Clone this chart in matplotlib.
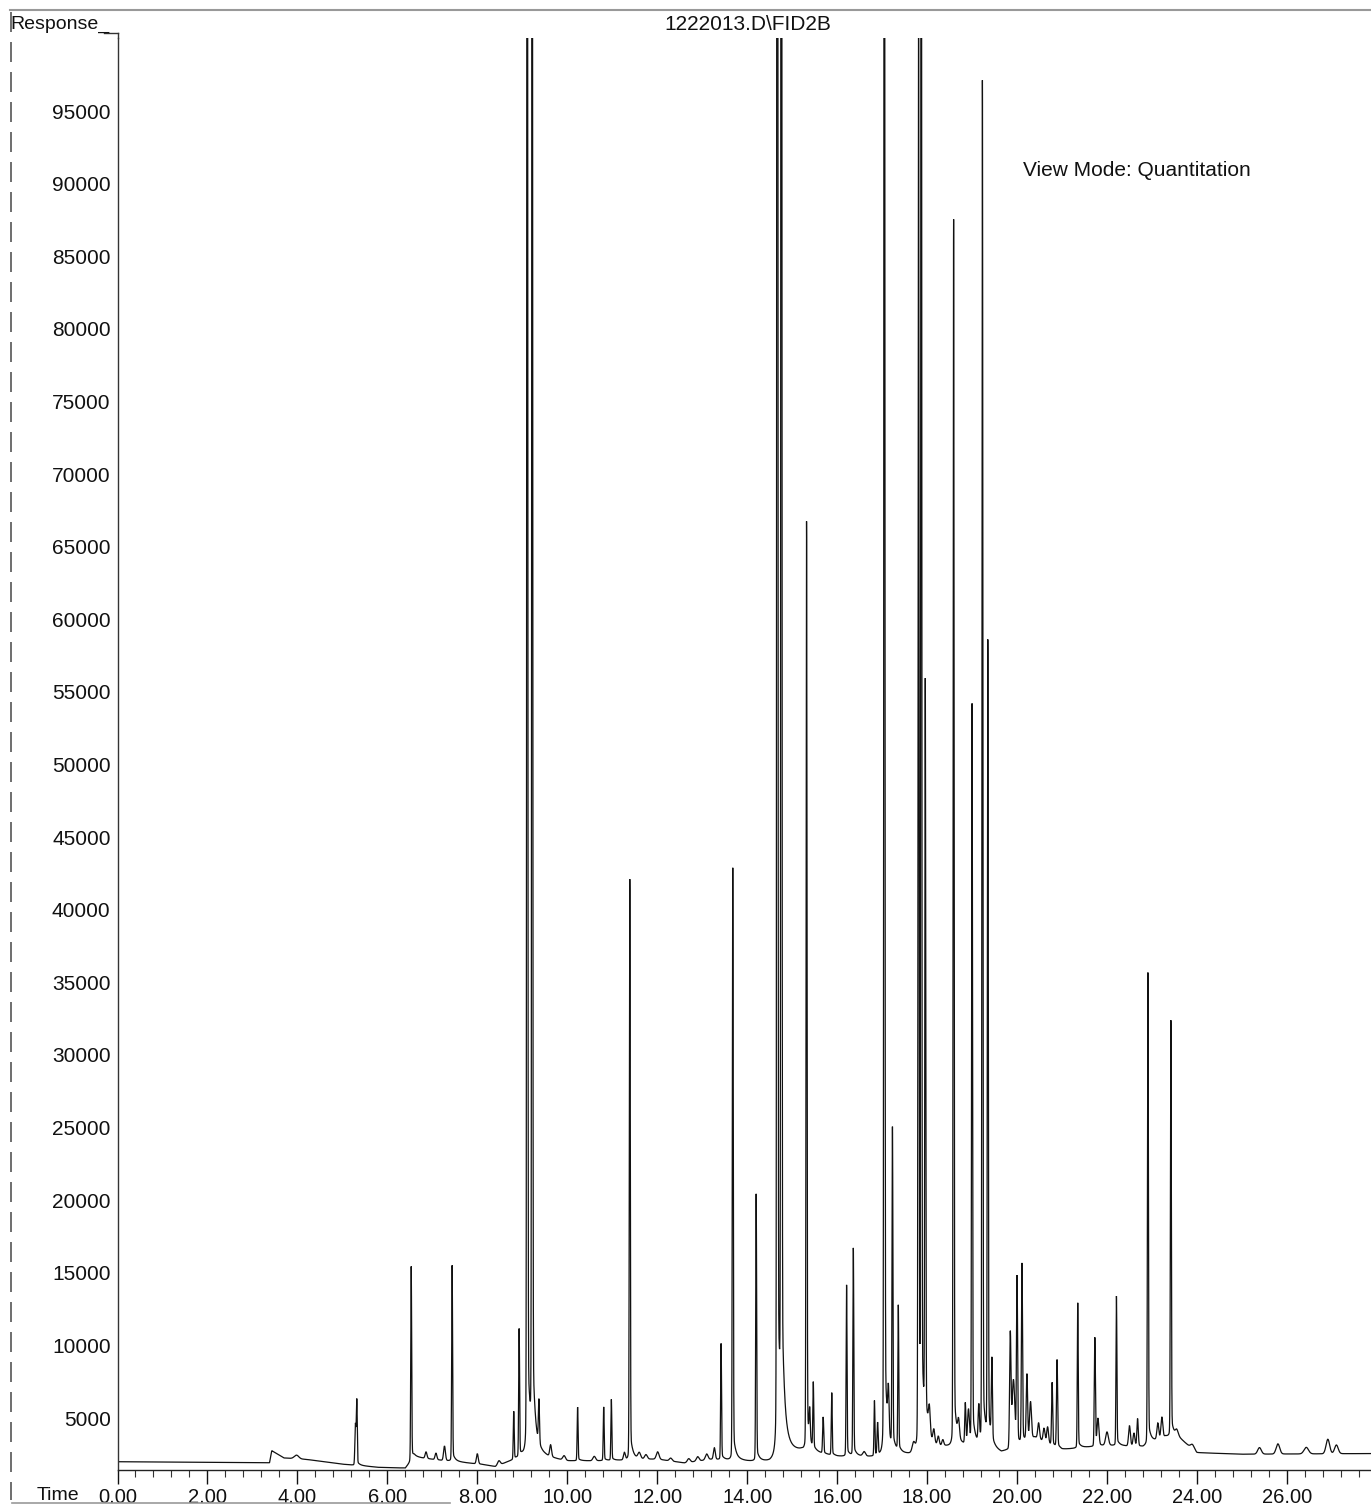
import numpy as np
import matplotlib
matplotlib.use("Agg")
import matplotlib.pyplot as plt
from matplotlib.lines import Line2D

plt.rcParams['font.family'] = ['Liberation Sans', 'DejaVu Sans']

# ---------------- data ----------------
title = "1222013.D\\FID2B"
y_label = "Response_"
x_label = "Time"
note = "View Mode: Quantitation"

# baseline level (response) at a set of retention times (min)
base_t = [0.0, 3.38, 3.43, 3.7, 4.2, 5.0, 5.8, 6.4, 6.6, 7.0, 7.6, 8.1, 8.4, 8.7,
          9.0, 9.5, 10.0, 11.0, 12.0, 12.6, 13.2, 14.0, 14.5, 15.2, 16.0, 17.0,
          17.6, 18.4, 19.0, 19.65, 20.4, 21.0, 22.0, 22.8, 23.3, 23.6, 24.0,
          25.0, 27.9]
base_v = [1990, 1920, 2750, 2250, 2150, 1820, 1600, 1550, 2300, 2150, 1950, 1800,
          1650, 2000, 2300, 2200, 2000, 2050, 2150, 1900, 2150, 2000, 1950, 2600,
          2300, 2300, 2400, 2900, 3000, 2500, 3600, 2800, 3100, 3000, 3700, 3600,
          2600, 2500, 2550]

# peaks: retention time (min), height above baseline, width (sigma, min)
peak_t = [3.98, 5.29, 5.32, 6.53, 6.86, 7.08, 7.27, 7.44, 8.00, 8.48, 8.81, 8.93,
          9.11, 9.22, 9.37, 9.63, 9.93, 10.23, 10.60, 10.81, 10.98, 11.27, 11.39,
          11.60, 11.75, 12.01, 12.30, 12.70, 12.90, 13.10, 13.27, 13.42, 13.68,
          14.20, 14.67, 14.76, 15.32, 15.39, 15.47, 15.69, 15.88, 16.21, 16.36,
          16.60, 16.83, 16.90, 17.05, 17.14, 17.23, 17.36, 17.70, 17.81, 17.87,
          17.96, 18.05, 18.15, 18.25, 18.35, 18.59, 18.70, 18.85, 18.92, 19.00,
          19.15, 19.23, 19.35, 19.44, 19.85, 19.92, 20.00, 20.11, 20.22, 20.30,
          20.48, 20.60, 20.68, 20.78, 20.89, 21.35, 21.73, 21.80, 22.00, 22.21,
          22.50, 22.60, 22.68, 22.91, 23.13, 23.22, 23.42, 23.55, 23.90, 25.39,
          25.80, 26.43, 26.91, 27.10]
peak_h = [250, 2800, 4400, 13400, 450, 450, 1000, 13500, 700, 300, 3300, 8800,
          160000, 140000, 3000, 800, 300, 3700, 300, 3700, 4200, 500, 40000,
          400, 300, 500, 200, 250, 300, 400, 800, 8000, 40800,
          18400, 250000, 200000, 64000, 2000, 4500, 2500, 4300, 11800, 14300,
          300, 3800, 2200, 160000, 3000, 22000, 10000, 600, 98500, 140000,
          51000, 1800, 900, 600, 400, 84500, 1200, 2800, 2300, 51000,
          2500, 94000, 55000, 5500, 7800, 4500, 11500, 12300, 4500, 2500,
          1100, 900, 1100, 4300, 6000, 10000, 7500, 1800, 900, 10300,
          1400, 900, 1900, 32500, 1100, 1400, 28700, 400, 300, 450,
          700, 450, 1000, 600]
peak_w = [0.05, 0.012, 0.010, 0.010, 0.02, 0.02, 0.02, 0.010, 0.02, 0.03, 0.010, 0.010,
          0.010, 0.010, 0.012, 0.02, 0.03, 0.010, 0.03, 0.010, 0.010, 0.02, 0.010,
          0.03, 0.03, 0.03, 0.03, 0.03, 0.03, 0.03, 0.02, 0.010, 0.010,
          0.010, 0.010, 0.010, 0.010, 0.012, 0.010, 0.012, 0.010, 0.010, 0.010,
          0.03, 0.010, 0.012, 0.010, 0.015, 0.010, 0.010, 0.03, 0.010, 0.010,
          0.010, 0.02, 0.02, 0.02, 0.02, 0.010, 0.02, 0.012, 0.02, 0.010,
          0.015, 0.010, 0.010, 0.012, 0.015, 0.03, 0.012, 0.012, 0.015, 0.02,
          0.02, 0.02, 0.02, 0.012, 0.012, 0.010, 0.012, 0.02, 0.03, 0.010,
          0.02, 0.02, 0.015, 0.010, 0.02, 0.02, 0.010, 0.03, 0.04, 0.04,
          0.04, 0.05, 0.04, 0.04]

y_ticks = list(range(5000, 95001, 5000))
x_ticks = [0, 2, 4, 6, 8, 10, 12, 14, 16, 18, 20, 22, 24, 26]

# ---------------- build the trace ----------------
t = np.arange(0.0, 27.9, 0.002)
signal = np.interp(t, base_t, base_v).astype(float)
eta = 0.04
for t0, h, s in zip(peak_t, peak_h, peak_w):
    d = t - t0
    gauss = np.exp(-0.5 * (d / s) ** 2)
    gam = np.where(d < 0, 0.02, 0.06)
    lor = gam ** 2 / (gam ** 2 + d ** 2)
    signal += h * ((1 - eta) * gauss + eta * lor)

# ---------------- figure ----------------
W, H = 1371, 1507
fig = plt.figure(figsize=(W / 100, H / 100), dpi=100)
ax = fig.add_axes([117.5 / W, 37 / H, 1 - 117.5 / W, (1470 - 38) / H])

ax.plot(t, signal, color='#111111', lw=0.9, solid_joinstyle='miter')
ax.set_xlim(0, 27.87)
ax.set_ylim(1420, 100030)

for side in ('top', 'right'):
    ax.spines[side].set_visible(False)
ax.spines['left'].set_color('#333333')
ax.spines['left'].set_linewidth(1.0)
ax.spines['bottom'].set_color('#222222')
ax.spines['bottom'].set_linewidth(1.0)

ax.set_yticks(y_ticks)
ax.set_yticklabels([str(v) for v in y_ticks])
ax.tick_params(axis='y', length=0, pad=5, labelsize=15, colors='#111111')

ax.set_xticks(x_ticks)
ax.set_xticklabels([f"{v:.2f}" for v in x_ticks])
ax.set_xticks(np.arange(0, 27.9, 0.4), minor=True)
ax.tick_params(axis='x', which='major', length=10, width=1, direction='out',
               pad=3, labelsize=14.5, colors='#111111')
ax.tick_params(axis='x', which='minor', length=5, width=0.8, direction='out',
               colors='#333333')

# texts
fig.text(10 / W, 1 - 24 / H, y_label, fontsize=14, ha='left', va='center', color='#111111')
fig.text(748 / W, 1 - 25 / H, title, fontsize=15, ha='center', va='center', color='#111111')
fig.text(1023 / W, 1 - 171 / H, note, fontsize=15, ha='left', va='center', color='#111111')
fig.text(37 / W, 1 - 1496 / H, x_label, fontsize=14, ha='left', va='center', color='#111111')

# scan frame lines
fig.add_artist(Line2D([10 / W, 1.0], [1 - 10 / H, 1 - 10 / H], color='#999999', lw=1.5))
fig.add_artist(Line2D([11 / W, 11 / W], [1 - 12 / H, 1 - 1500 / H], color='#555555',
                      lw=1.2, ls=(0, (12, 6))))
fig.add_artist(Line2D([12 / W, 450 / W], [1 - 1503 / H, 1 - 1503 / H], color='#999999', lw=1.2))
# y axis continues up to the "Response_" caption
fig.add_artist(Line2D([117.5 / W, 117.5 / W], [1 - 33 / H, 1 - 38 / H], color='#333333', lw=1.0))
fig.add_artist(Line2D([104 / W, 117.5 / W], [1 - 33 / H, 1 - 33 / H], color='#333333', lw=1.0))

fig.savefig("out.png", dpi=100)
